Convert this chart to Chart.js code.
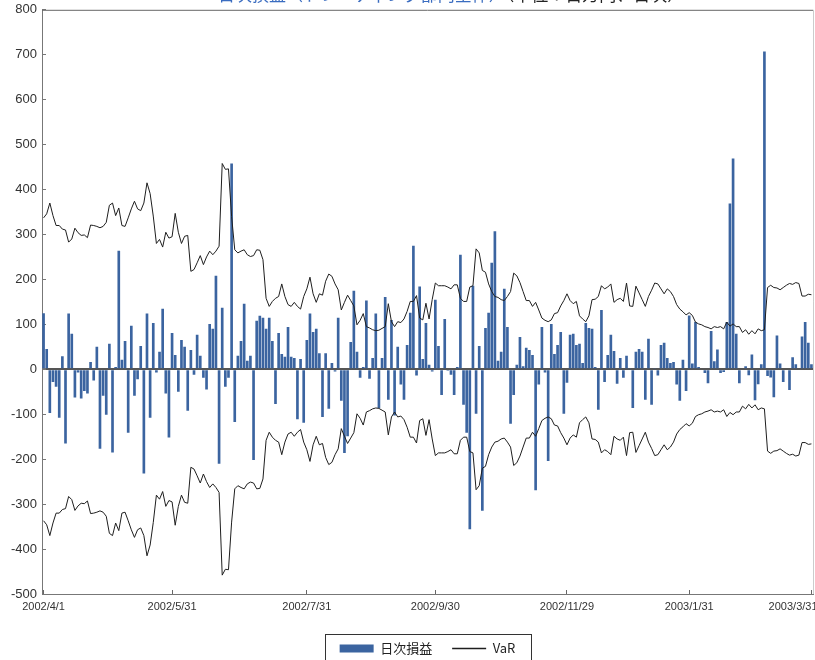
<!DOCTYPE html>
<html>
<head>
<meta charset="utf-8">
<script src="https://cdn.jsdelivr.net/npm/chart.js@4.4.1/dist/chart.umd.min.js"></script>
<style>
  html, body { margin: 0; padding: 0; background: #fff; overflow: hidden; width: 815px; height: 660px; }
  #title { position: absolute; left: 218px; top: -16px; font: 17px 'Noto Sans CJK JP', sans-serif; line-height: 20px; white-space: nowrap; z-index: 1; }
  #wrap { position: absolute; left: 0; top: -7px; width: 900px; height: 680px; }
</style>
</head>
<body>
<div id="title"><span style="color:#3a6cc0">日次損益（トレーディング部門全体）</span><span style="color:#222">（単位：百万円、日次）</span></div>
<div id="wrap"><canvas id="chart"></canvas></div>
<script>
// Japanese market holidays falling on weekdays, FY2002
const holidays = ['2002/4/29', '2002/5/3', '2002/5/6', '2002/9/16', '2002/9/23', '2002/10/14', '2002/11/4',
  '2002/12/23', '2002/12/31', '2003/1/1', '2003/1/2', '2003/1/3', '2003/1/13', '2003/2/11', '2003/3/21'];

const tickLabels = ['2002/4/1', '2002/5/31', '2002/7/31', '2002/9/30', '2002/11/29', '2003/1/31', '2003/3/31'];

const dailyPnl = [
  125, 45, -97, -28, -39, -108, 29, -165, 124, 79, -63, -7, -65, -48, -54, 16, -25, 50, -177, -59,
  -101, 57, -185, 5, 264, 21, 63, -141, 97, -59, -22, 52, -232, 124, -108, 103, -7, 39, 135, -54,
  -152, 81, 32, -50, 65, 50, -92, 43, -12, 77, 30, -19, -45, 101, 90, 208, -210, 137, -39, -19,
  458, -117, 30, 63, 146, 19, 30, -202, 108, 119, 115, 90, 115, 63, -77, 81, 34, 28, 94, 28,
  25, -111, 23, -119, 65, 124, 83, 90, 36, -106, 36, -88, 14, -5, 115, -70, -186, -149, 61, 175,
  39, -19, 5, 153, -21, 25, 124, -86, 25, 161, -68, 110, -103, 50, -34, -68, 54, 126, 275, -14,
  184, 23, 103, 10, -5, 155, 52, -57, 112, -3, -12, -57, 5, 255, -79, -141, -356, 186, -99, 52,
  -315, 92, 126, 237, 307, 19, 39, 179, 94, -121, -57, 10, 72, 7, 48, 43, 32, -269, -34, 94,
  -7, -204, 101, 34, 54, 83, -99, -30, 77, 79, 54, 57, 14, 103, 92, 90, 5, -90, 132, -28,
  32, 77, 41, -32, 25, -19, 30, 3, -86, 39, 45, 39, -68, 68, -79, 2, -14, 54, 59, 25,
  14, 16, -34, -70, 21, -48, 120, 13, 105, 5, 0, -8, -31, 85, 18, 44, -8, -6, 105, 369,
  469, 79, -31, 0, 7, -13, 33, -69, -33, 11, 707, -15, -18, -62, 75, 13, -28, 0, -46, 27,
  11, 0, 73, 105, 59, 11
];

const varValues = [
  337, 346, 370, 342, 320, 320, 312, 310, 283, 290, 314, 304, 298, 299, 293, 321, 320, 318, 315, 318,
  327, 365, 370, 342, 359, 320, 318, 337, 357, 374, 357, 353, 370, 415, 391, 341, 280, 289, 272, 305,
  292, 295, 347, 305, 280, 296, 298, 218, 222, 237, 253, 233, 250, 263, 255, 263, 274, 458, 445, 446,
  340, 266, 259, 263, 266, 255, 251, 253, 266, 265, 244, 158, 140, 151, 158, 162, 190, 162, 144, 140,
  149, 140, 134, 162, 179, 205, 168, 149, 168, 165, 196, 212, 207, 190, 177, 132, 149, 165, 153, 141,
  99, 109, 124, 95, 92, 88, 86, 87, 91, 95, 146, 106, 95, 106, 104, 112, 129, 151, 151, 164,
  114, 110, 147, 112, 155, 192, 186, 186, 186, 183, 179, 188, 188, 158, 151, 151, 183, 186, 268, 259,
  220, 216, 190, 173, 162, 160, 155, 153, 162, 173, 214, 208, 193, 173, 153, 153, 140, 149, 132, 114,
  109, 106, 110, 124, 126, 141, 153, 168, 153, 146, 151, 119, 112, 106, 119, 155, 156, 162, 186, 179,
  183, 190, 149, 155, 158, 151, 192, 141, 140, 185, 170, 155, 140, 162, 176, 192, 190, 179, 168, 179,
  173, 162, 144, 134, 128, 121, 126, 120, 105, 101, 99, 95, 93, 90, 95, 93, 95, 90, 105, 96,
  101, 95, 95, 82, 88, 78, 86, 79, 90, 86, 88, 182, 187, 182, 181, 177, 182, 187, 191, 189,
  193, 191, 163, 163, 167, 166
];

// business days of the fiscal year
const dates = [];
for (let d = new Date(2002, 3, 1); d <= new Date(2003, 2, 31); d.setDate(d.getDate() + 1)) {
  const s = d.getFullYear() + '/' + (d.getMonth() + 1) + '/' + d.getDate();
  if (d.getDay() === 0 || d.getDay() === 6 || holidays.includes(s)) continue;
  dates.push(s);
}

const isLabeled = i => tickLabels.includes(dates[i]);

// plot frame (top + right edges) and the box round the legend
const framePlugin = {
  id: 'frame',
  afterDraw(chart) {
    const { ctx, chartArea: a } = chart;
    ctx.save();
    ctx.lineWidth = 1;
    ctx.strokeStyle = '#666';
    ctx.beginPath();
    ctx.moveTo(a.left, a.top + 0.5);
    ctx.lineTo(a.right, a.top + 0.5);
    ctx.stroke();
    ctx.strokeStyle = '#ccc';
    ctx.beginPath();
    ctx.moveTo(a.right + 0.5, a.top);
    ctx.lineTo(a.right + 0.5, a.bottom);
    ctx.stroke();

    const boxes = chart.legend.legendHitBoxes;
    if (boxes && boxes.length) {
      const left = Math.min(...boxes.map(b => b.left)) - 15;
      const right = Math.max(...boxes.map(b => b.left + b.width)) + 15;
      const top = boxes[0].top - 8;
      ctx.strokeStyle = '#333';
      ctx.strokeRect(Math.round(left) + 0.5, Math.round(top) + 0.5, Math.round(right - left), 40);
    }
    ctx.restore();
  }
};

Chart.defaults.font.family = "'Liberation Sans Narrow', 'Liberation Sans', Arial, sans-serif";
Chart.defaults.color = '#333';

new Chart(document.getElementById('chart'), {
  type: 'bar',
  data: {
    labels: dates,
    datasets: [
      {
        type: 'bar',
        label: '日次損益',
        data: dailyPnl,
        backgroundColor: '#3b64a0',
        barPercentage: 0.85,
        categoryPercentage: 1,
        order: 2
      },
      {
        type: 'line',
        label: 'VaR',
        data: varValues,
        borderColor: '#1e1e1e',
        borderWidth: 1,
        pointRadius: 0,
        tension: 0,
        order: 1
      },
      {
        type: 'line',
        label: 'VaR (loss side)',
        data: varValues.map(v => -v),
        borderColor: '#1e1e1e',
        borderWidth: 1,
        pointRadius: 0,
        tension: 0,
        order: 1
      }
    ]
  },
  options: {
    responsive: true,
    maintainAspectRatio: false,
    animation: false,
    layout: { padding: { top: 3, right: 87, bottom: 8, left: 0 } },
    scales: {
      x: {
        offset: true,
        grid: {
          offset: false,
          drawOnChartArea: false,
          tickLength: -4,
          tickColor: ctx => isLabeled(ctx.index) ? '#666' : 'rgba(0,0,0,0)'
        },
        border: { color: '#777' },
        ticks: {
          autoSkip: false,
          maxRotation: 0,
          padding: 10,
          font: { size: 11 },
          callback: (val, i) => {
            if (!isLabeled(i)) return '';
            return i === dates.length - 1 ? dates[i] + '\u2007'.repeat(6) : dates[i];
          }
        },
        afterFit: scale => { scale.height = 28; }
      },
      y: {
        min: -500,
        max: 800,
        grid: {
          color: ctx => ctx.tick && ctx.tick.value === 0 ? '#555' : 'rgba(0,0,0,0)',
          lineWidth: ctx => ctx.tick && ctx.tick.value === 0 ? 2 : 1,
          tickColor: '#777',
          tickLength: -4
        },
        border: { color: '#777' },
        ticks: { stepSize: 100, padding: 9, font: { size: 13 } },
        afterFit: scale => { scale.width = 42; }
      }
    },
    plugins: {
      title: { display: false },
      tooltip: { enabled: false },
      legend: {
        position: 'bottom',
        fullSize: false,
        labels: {
          usePointStyle: true,
          pointStyleWidth: 34,
          boxHeight: 8,
          padding: 20,
          color: '#222',
          font: { family: "'Noto Sans CJK JP', sans-serif", size: 13 },
          sort: (a, b) => a.datasetIndex - b.datasetIndex,
          generateLabels: chart => Chart.defaults.plugins.legend.labels.generateLabels(chart)
            .filter(l => l.datasetIndex < 2)
            .map(l => Object.assign(l, l.datasetIndex === 0
              ? { pointStyle: 'rect' }
              : { pointStyle: 'line', lineWidth: 1.5, strokeStyle: '#1e1e1e' }))
        }
      }
    }
  },
  plugins: [framePlugin]
});
</script>
</body>
</html>
